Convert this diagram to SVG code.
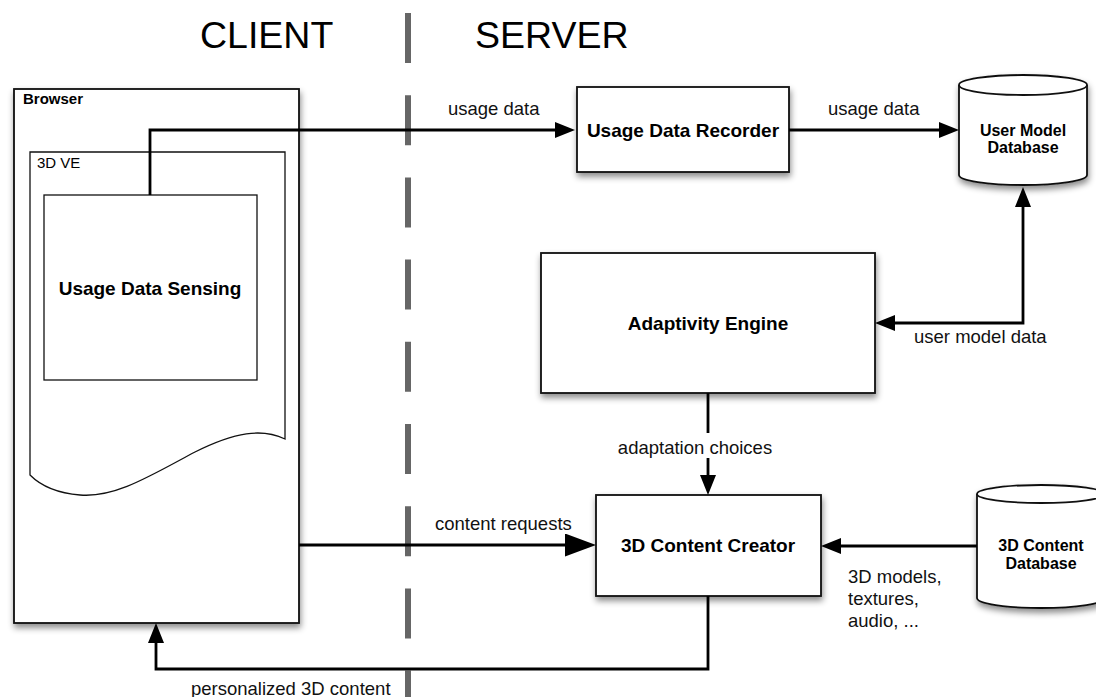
<svg xmlns="http://www.w3.org/2000/svg" width="1096" height="697" viewBox="0 0 1096 697">
  <style>
    .box { fill: #fff; stroke: #111; stroke-width: 1.8; }
    .inner { fill: #fff; stroke: #111; stroke-width: 1.3; }
    .conn { fill: none; stroke: #000; stroke-width: 2.8; }
    .title { font-family: "Liberation Sans", Arial, sans-serif; font-size: 37.5px; fill: #000; }
    .label { font-family: "Liberation Sans", Arial, sans-serif; font-size: 18.5px; fill: #111; }
    .node { font-family: "Liberation Sans", Arial, sans-serif; font-size: 19px; font-weight: bold; fill: #000; text-anchor: middle; }
    .db { font-family: "Liberation Sans", Arial, sans-serif; font-size: 16px; font-weight: bold; fill: #000; text-anchor: middle; }
    .small { font-family: "Liberation Sans", Arial, sans-serif; font-size: 15px; fill: #000; }
  </style>
  <defs>
    <filter id="shadow" x="-10%" y="-10%" width="125%" height="130%">
      <feDropShadow dx="1" dy="4" stdDeviation="3" flood-color="#000" flood-opacity="0.45"/>
    </filter>
    <marker id="arrow" markerUnits="userSpaceOnUse" markerWidth="20" markerHeight="16" refX="2" refY="8" orient="auto-start-reverse">
      <path d="M0,0 L20,8 L0,16 Z" fill="#000"/>
    </marker>
    <marker id="arrowLarge" markerUnits="userSpaceOnUse" markerWidth="31" markerHeight="23" refX="2" refY="11.5" orient="auto">
      <path d="M0,0 L31,11.5 L0,23 Z" fill="#000"/>
    </marker>
  </defs>

  <rect width="1096" height="697" fill="#fff"/>

  <!-- client / server divider -->
  <line x1="408" y1="13" x2="408" y2="697" stroke="#666" stroke-width="6" stroke-dasharray="50 32.2"/>
  <text class="title" x="200" y="48">CLIENT</text>
  <text class="title" x="475" y="48">SERVER</text>

  <!-- browser with embedded 3D VE -->
  <g id="browser">
    <rect class="box" x="14" y="89" width="285" height="534" filter="url(#shadow)"/>
    <text class="small" x="23" y="104" font-weight="bold">Browser</text>
  </g>
  <g id="ve3d">
    <path class="inner" d="M30,152 H285 V439 C262,428 235,432 195,452 C150,476 115,498 80,495 C55,493 40,485 30,475 Z"/>
    <text class="small" x="37" y="168" font-size="15.5">3D VE</text>
  </g>
  <g id="usage-data-sensing">
    <rect class="inner" x="44" y="195" width="213" height="185"/>
    <text class="node" x="150" y="295">Usage Data Sensing</text>
  </g>

  <!-- server side components -->
  <g id="usage-data-recorder">
    <rect class="box" x="577" y="87" width="212" height="85" filter="url(#shadow)"/>
    <text class="node" x="683" y="137">Usage Data Recorder</text>
  </g>
  <g id="user-model-db">
    <path class="box" d="M959,85 A64,10 0 0 1 1087,85 V175 A64,10 0 0 1 959,175 Z" filter="url(#shadow)"/>
    <path fill="none" stroke="#111" stroke-width="1.8" d="M959,85 A64,10 0 0 0 1087,85"/>
    <text class="db" x="1023" y="136">User Model</text>
    <text class="db" x="1023" y="153">Database</text>
  </g>
  <g id="adaptivity-engine">
    <rect class="box" x="541" y="253" width="334" height="140" filter="url(#shadow)"/>
    <text class="node" x="708" y="330">Adaptivity Engine</text>
  </g>
  <g id="content-creator">
    <rect class="box" x="596" y="495" width="225" height="101" filter="url(#shadow)"/>
    <text class="node" x="708" y="552">3D Content Creator</text>
  </g>
  <g id="content-db">
    <path class="box" d="M977,494 A64,9 0 0 1 1105,494 V598 A64,10 0 0 1 977,598 Z" filter="url(#shadow)"/>
    <path fill="none" stroke="#111" stroke-width="1.8" d="M977,494 A64,9 0 0 0 1105,494"/>
    <text class="db" x="1041" y="551">3D Content</text>
    <text class="db" x="1041" y="569">Database</text>
  </g>

  <!-- connectors -->
  <g id="connectors">
    <path class="conn" d="M150,195 V130 H557" marker-end="url(#arrow)"/>
    <path class="conn" d="M789,130 H941" marker-end="url(#arrow)"/>
    <path class="conn" d="M1023,205 V323 H893" marker-start="url(#arrow)" marker-end="url(#arrow)"/>
    <path class="conn" d="M708,393 V477" marker-end="url(#arrow)"/>
    <path class="conn" d="M299,545 H567" marker-end="url(#arrowLarge)"/>
    <path class="conn" d="M977,546 H839" marker-end="url(#arrow)"/>
    <path class="conn" d="M708,596 V669 H156 V641" marker-end="url(#arrow)"/>

    <text class="label" x="448" y="115">usage data</text>
    <text class="label" x="828" y="115">usage data</text>
    <text class="label" x="914" y="343">user model data</text>
    <rect x="615" y="433" width="161" height="25" fill="#fff"/>
    <text class="label" x="695" y="454" text-anchor="middle">adaptation choices</text>
    <text class="label" x="435" y="530">content requests</text>
    <text class="label" x="848" y="583">3D models,</text>
    <text class="label" x="848" y="605">textures,</text>
    <text class="label" x="848" y="627">audio, ...</text>
    <text class="label" x="191" y="695">personalized 3D content</text>
  </g>
</svg>
